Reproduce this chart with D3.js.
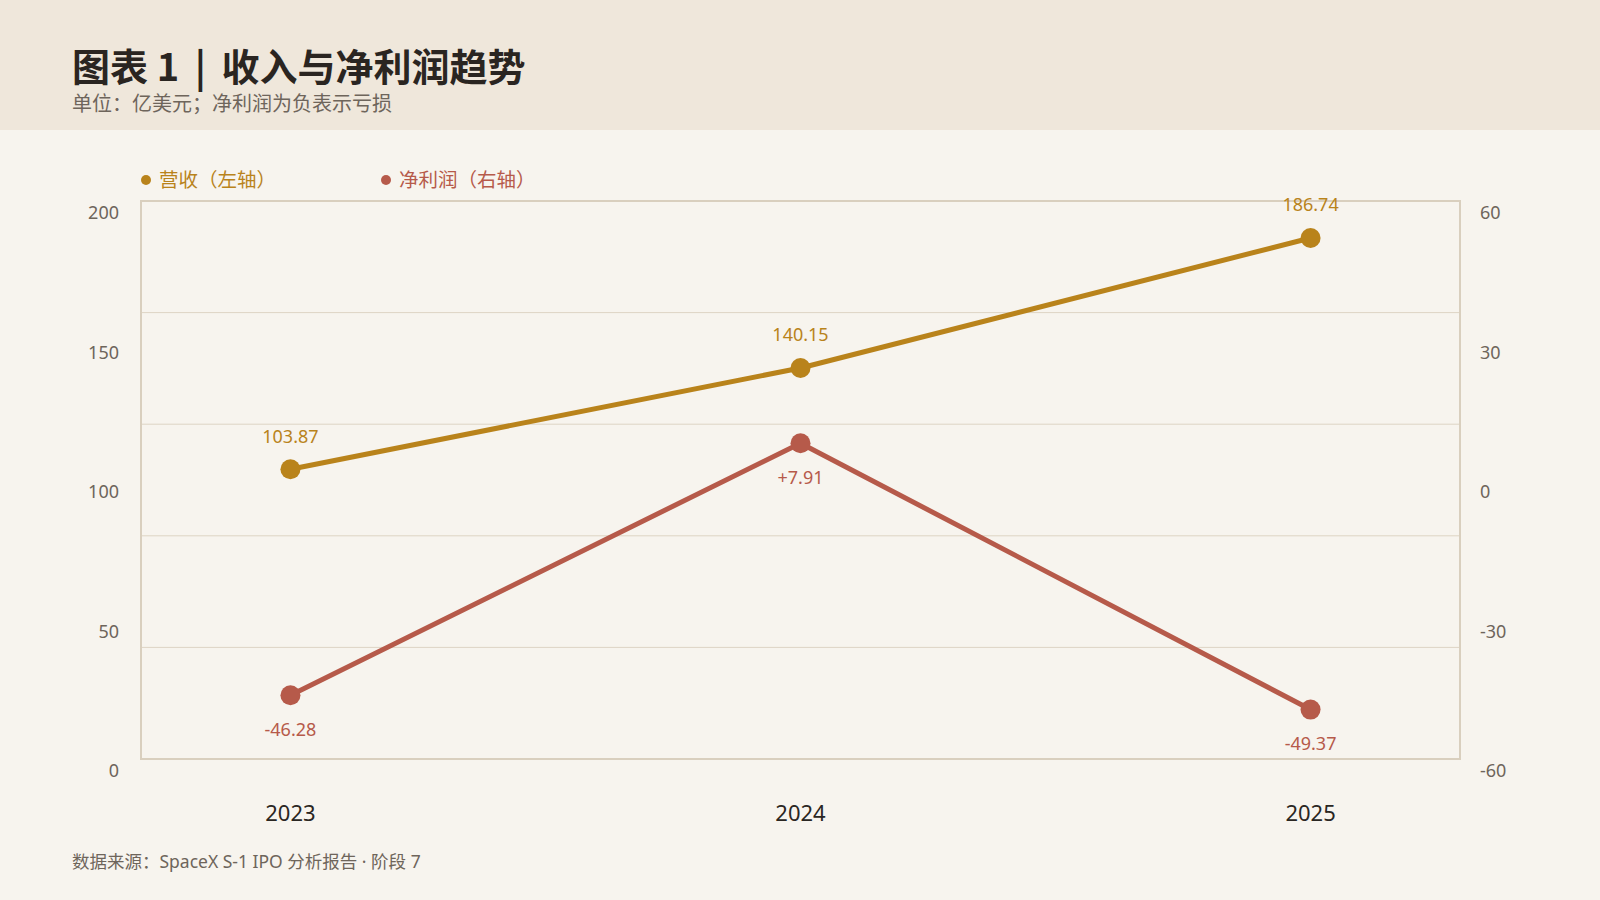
<!DOCTYPE html>
<html>
<head>
<meta charset="utf-8">
<script src="https://cdn.jsdelivr.net/npm/d3@7"></script>
<style>
  html, body { margin: 0; padding: 0; background: #F7F4EE; }
  svg { display: block; font-family: "Noto Sans", "Noto Sans CJK SC", sans-serif; }
</style>
</head>
<body>
<svg id="chart"></svg>
<script>
const years = ["2023", "2024", "2025"];
const revenue = [103.87, 140.15, 186.74];
const netProfit = [-46.28, 7.91, -49.37];
const revenueLabels = ["103.87", "140.15", "186.74"];
const profitLabels = ["-46.28", "+7.91", "-49.37"];
const leftTicks = [0, 50, 100, 150, 200];
const rightTicks = [-60, -30, 0, 30, 60];

const svg = d3.select("#chart")
    .attr("width", 1600)
    .attr("height", 900);

const gold = "#B9831B";
const red = "#B65A4A";
const plot = { left: 141, right: 1460, top: 201, bottom: 759 };

// background + header band
svg.append("rect").attr("width", 1600).attr("height", 900).attr("fill", "#F7F4EE");
svg.append("rect").attr("width", 1600).attr("height", 130).attr("fill", "#EFE7DB");

const title = svg.append("text")
    .attr("x", 72).attr("y", 81)
    .attr("font-size", 38).attr("font-weight", 700)
    .attr("fill", "#2A2521")
    .attr("font-family", "'Noto Sans CJK SC', sans-serif");
title.append("tspan").text("图表 1");
title.append("tspan").attr("dx", 7).text(" |");
title.append("tspan").attr("dx", 7).text(" 收入与净利润趋势");

svg.append("text")
    .attr("x", 72).attr("y", 111)
    .attr("font-size", 20)
    .attr("fill", "#6E655B")
    .attr("font-family", "'Noto Sans CJK SC', sans-serif")
    .text("单位：亿美元；净利润为负表示亏损");

const x = d3.scalePoint()
    .domain(years)
    .range([plot.left, plot.right])
    .padding(0.293);

const yL = d3.scaleLinear().domain([0, 200]).range([plot.bottom, plot.top]);
const yR = d3.scaleLinear().domain([-60, 60]).range([plot.bottom, plot.top]);

// grid (5 divisions)
svg.append("g")
    .selectAll("line")
    .data(d3.range(40, 200, 40))
    .join("line")
    .attr("x1", plot.left).attr("x2", plot.right)
    .attr("y1", d => yL(d)).attr("y2", d => yL(d))
    .attr("stroke", "#DDD4C4").attr("stroke-width", 1);

svg.append("rect")
    .attr("x", plot.left).attr("y", plot.top)
    .attr("width", plot.right - plot.left)
    .attr("height", plot.bottom - plot.top)
    .attr("fill", "none")
    .attr("stroke", "#D9CFBE").attr("stroke-width", 2);

// axis labels (sit ~12px below their grid value)
svg.append("g")
    .selectAll("text")
    .data(leftTicks)
    .join("text")
    .attr("x", 119).attr("y", d => yL(d) + 12)
    .attr("dy", "0.35em")
    .attr("text-anchor", "end")
    .attr("font-size", 18).attr("fill", "#6E655B")
    .text(d => d);

svg.append("g")
    .selectAll("text")
    .data(rightTicks)
    .join("text")
    .attr("x", 1480).attr("y", d => yR(d) + 12)
    .attr("dy", "0.35em")
    .attr("font-size", 18).attr("fill", "#6E655B")
    .text(d => d);

svg.append("g")
    .selectAll("text")
    .data(years)
    .join("text")
    .attr("x", d => x(d)).attr("y", 813)
    .attr("dy", "0.35em")
    .attr("text-anchor", "middle")
    .attr("font-size", 22).attr("fill", "#2A2622")
    .text(d => d);

// series
function drawSeries(values, labels, scale, color, offset) {
    const pts = values.map((v, i) => [x(years[i]), scale(v)]);
    svg.append("path")
        .attr("d", d3.line()(pts))
        .attr("fill", "none")
        .attr("stroke", color).attr("stroke-width", 5)
        .attr("stroke-linejoin", "round");
    svg.append("g").selectAll("circle")
        .data(pts)
        .join("circle")
        .attr("cx", d => d[0]).attr("cy", d => d[1])
        .attr("r", 10).attr("fill", color);
    svg.append("g").selectAll("text")
        .data(pts)
        .join("text")
        .attr("x", d => d[0]).attr("y", d => d[1] + offset)
        .attr("dy", "0.35em")
        .attr("text-anchor", "middle")
        .attr("font-size", 18).attr("fill", color)
        .text((d, i) => labels[i]);
}

drawSeries(revenue, revenueLabels, yL, gold, -33);
drawSeries(netProfit, profitLabels, yR, red, 34);

// legend
const legend = [
    { name: "营收（左轴）", color: gold, x: 146 },
    { name: "净利润（右轴）", color: red, x: 386 }
];
const lg = svg.append("g").selectAll("g").data(legend).join("g");
lg.append("circle")
    .attr("cx", d => d.x).attr("cy", 180).attr("r", 5)
    .attr("fill", d => d.color);
lg.append("text")
    .attr("x", d => d.x + 13).attr("y", 180)
    .attr("dy", "0.35em")
    .attr("font-size", 19.5)
    .attr("font-family", "'Noto Sans CJK SC', sans-serif")
    .attr("fill", d => d.color)
    .text(d => d.name);

svg.append("text")
    .attr("x", 72).attr("y", 862)
    .attr("dy", "0.35em")
    .attr("font-size", 17.5).attr("fill", "#6E655B")
    .text("数据来源：SpaceX S-1 IPO 分析报告 · 阶段 7");
</script>
</body>
</html>
